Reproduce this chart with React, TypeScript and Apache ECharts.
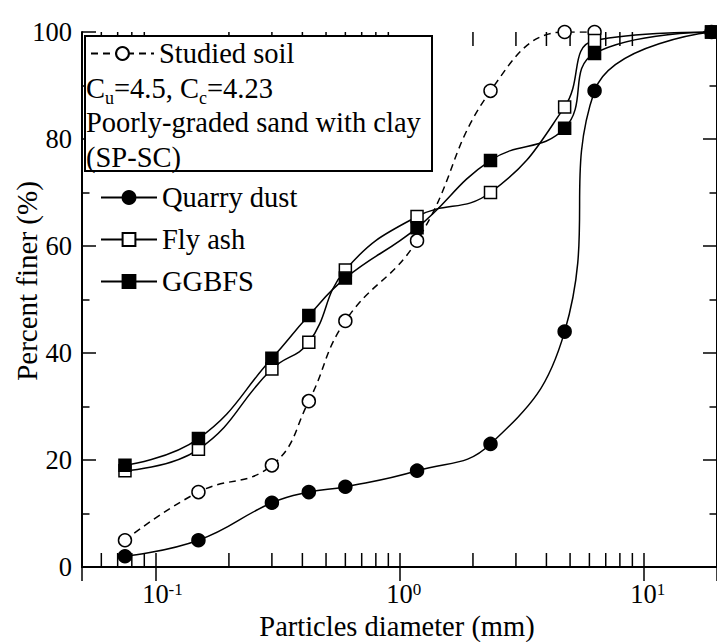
import React, { useEffect, useRef } from "react";
import * as echarts from "echarts";

const FONT = "Liberation Serif";

// Particle diameters (mm)
const sieveSizes = [0.075, 0.15, 0.3, 0.425, 0.6, 1.18, 2.36, 4.75, 6.3, 19];
// Percent finer (%)
const studiedSoil = [5, 14, 19, 31, 46, 61, 89, 100, 100];
const quarryDust = [2, 5, 12, 14, 15, 18, 23, 44, 89, 100];
const flyAsh = [18, 22, 37, 42, 55.5, 65.5, 70, 86, 98.4, 100];
const ggbfs = [19, 24, 39, 47, 54, 63.4, 76, 82, 96, 100];

// Minor tick positions on the log axis
const minorTicks = [
  0.06, 0.07, 0.08, 0.09, 0.2, 0.3, 0.4, 0.5, 0.6, 0.7, 0.8, 0.9,
  2, 3, 4, 5, 6, 7, 8, 9,
];

const pairs = (ys: number[]) => ys.map((y, i) => [sieveSizes[i], y]);

export default function App() {
  const ref = useRef<HTMLDivElement>(null);
  useEffect(() => {
    if (!ref.current) return;
    const chart = echarts.init(ref.current, null, { renderer: "svg" });
    const black = "#000";
    const axisCommonY = {
      type: "value",
      min: 0,
      max: 100,
      interval: 20,
      splitLine: { show: false },
      axisLine: { show: true, lineStyle: { color: black, width: 2 } },
      axisTick: { show: true, inside: true, length: 14, lineStyle: { color: black, width: 1.5 } },
      minorTick: { show: true, splitNumber: 2, length: 7.5, lineStyle: { color: black, width: 1.5 } },
    };
    const padW: Record<string, number> = { pm1: 14, p0: 8.5, p1: 8.5 };
    const labelRich: any = {
      b: { fontSize: 26.5, fontFamily: FONT, color: black, lineHeight: 28, verticalAlign: "top" },
      s: { fontSize: 17, fontFamily: FONT, color: black, lineHeight: 17, verticalAlign: "top", padding: [1, 0, 0, 0] },
    };
    Object.keys(padW).forEach((k) => {
      labelRich[k] = { width: padW[k], lineHeight: 28 };
    });
    const lineSeries = (name: string, ys: number[], symbol: string, filled: boolean, dashed: boolean, size: number) => ({
      type: "line",
      name,
      data: pairs(ys),
      xAxisIndex: 0,
      yAxisIndex: 0,
      smooth: 0.45,
      symbol,
      symbolSize: size,
      showAllSymbol: true,
      lineStyle: { color: black, width: 1.5, type: dashed ? [7, 5] : "solid" },
      itemStyle: { color: filled ? black : "#fff", borderColor: black, borderWidth: 1.5 },
      emphasis: { disabled: true },
      z: 3,
    });
    chart.setOption({
      animation: false,
      backgroundColor: "#fff",
      textStyle: { fontFamily: FONT },
      grid: { left: 82, top: 32, right: -3, bottom: 75, containLabel: false },
      xAxis: [
        {
          type: "log",
          logBase: 10,
          min: 0.05,
          max: 20,
          position: "bottom",
          splitLine: { show: false },
          axisLine: { show: true, lineStyle: { color: black, width: 2 } },
          axisTick: { show: true, inside: true, length: 14, lineStyle: { color: black, width: 1.5 } },
          axisLabel: {
            show: true,
            margin: 13,
            showMinLabel: false,
            showMaxLabel: false,
            formatter: (v: number) => {
              const e = Math.round(Math.log10(v));
              const key = e < 0 ? "pm" + -e : "p" + e;
              return `{${key}|}{b|10}{s|${e}}`;
            },
            rich: labelRich,
          },
        },
        {
          type: "log",
          logBase: 10,
          min: 0.05,
          max: 20,
          position: "top",
          splitLine: { show: false },
          axisLine: { show: true, lineStyle: { color: black, width: 2 } },
          axisTick: { show: true, inside: true, length: 14, lineStyle: { color: black, width: 1.5 } },
          axisLabel: { show: false },
        },
      ],
      yAxis: [
        {
          ...axisCommonY,
          position: "left",
          axisLabel: { show: true, margin: 10, fontSize: 26.5, fontFamily: FONT, color: black },
        },
        {
          ...axisCommonY,
          position: "right",
          axisLabel: { show: false },
        },
      ],
      legend: [
        {
          data: ["Studied soil"],
          orient: "vertical",
          left: 90,
          top: 39,
          padding: 0,
          itemWidth: 63,
          itemHeight: 16,
          itemGap: 13,
          selectedMode: false,
          textStyle: { fontSize: 28.5, fontFamily: FONT, color: black, lineHeight: 28 },
          z: 6,
        },
        {
          data: ["Quarry dust", "Fly ash", "GGBFS"],
          orient: "vertical",
          left: 100,
          top: 183,
          padding: 0,
          itemWidth: 56,
          itemHeight: 16,
          itemGap: 13,
          selectedMode: false,
          textStyle: { fontSize: 28.5, fontFamily: FONT, color: black, lineHeight: 28 },
          z: 6,
        },
      ],
      graphic: [
        {
          type: "rect",
          z: 5,
          shape: { x: 85, y: 36, width: 347, height: 135 },
          style: { fill: "#fff", stroke: black, lineWidth: 2 },
        },
        {
          type: "text",
          z: 7,
          x: 86,
          y: 88,
          style: {
            text: "{n|C}{s|u}{n|=4.5, C}{s|c}{n|=4.23}",
            textVerticalAlign: "middle",
            rich: {
              n: { fontSize: 28.5, fontFamily: FONT, fill: black, lineHeight: 28, verticalAlign: "top" },
              s: { fontSize: 18, fontFamily: FONT, fill: black, lineHeight: 18, verticalAlign: "top", padding: [15, 0, 0, 0] },
            },
          },
        },
        {
          type: "text",
          z: 7,
          x: 86,
          y: 122,
          style: { text: "Poorly-graded sand with clay", fontSize: 28.5, fontFamily: FONT, fill: black, textVerticalAlign: "middle" },
        },
        {
          type: "text",
          z: 7,
          x: 86,
          y: 157,
          style: { text: "(SP-SC)", fontSize: 28.5, fontFamily: FONT, fill: black, textVerticalAlign: "middle" },
        },
        {
          type: "text",
          z: 7,
          x: 397,
          y: 626,
          style: { text: "Particles diameter (mm)", fontSize: 28.5, fontFamily: FONT, fill: black, textAlign: "center", textVerticalAlign: "middle" },
        },
        {
          type: "text",
          z: 7,
          x: 27,
          y: 281,
          rotation: Math.PI / 2,
          style: { text: "Percent finer (%)", fontSize: 29, fontFamily: FONT, fill: black, textAlign: "center", textVerticalAlign: "middle" },
        },
      ],
      series: [
        {
          type: "custom",
          name: "minor ticks",
          xAxisIndex: 0,
          yAxisIndex: 0,
          silent: true,
          clip: false,
          data: minorTicks.map((v) => [v, 0]),
          renderItem: (params: any, api: any) => {
            const v = api.value(0);
            const b = api.coord([v, 0]);
            const t = api.coord([v, 100]);
            const st = { stroke: black, lineWidth: 1.5 };
            return {
              type: "group",
              children: [
                { type: "line", shape: { x1: b[0], y1: b[1], x2: b[0], y2: b[1] - 14 }, style: st },
                { type: "line", shape: { x1: t[0], y1: t[1], x2: t[0], y2: t[1] + 14 }, style: st },
              ],
            };
          },
          z: 1,
        },
        lineSeries("Studied soil", studiedSoil, "circle", false, true, 13),
        lineSeries("Quarry dust", quarryDust, "circle", true, false, 13),
        lineSeries("Fly ash", flyAsh, "rect", false, false, 12),
        lineSeries("GGBFS", ggbfs, "rect", true, false, 12),
      ],
    });
    return () => chart.dispose();
  }, []);
  return <div ref={ref} style={{ position: "absolute", left: 0, top: 0, width: 717, height: 642 }} />;
}
